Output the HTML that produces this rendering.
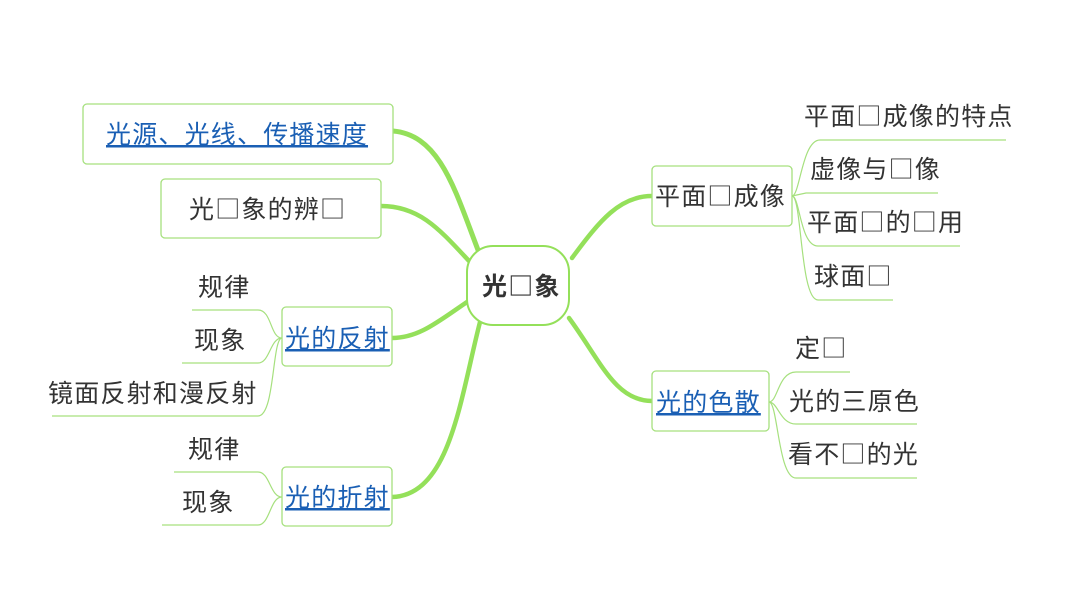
<!DOCTYPE html>
<html><head><meta charset="utf-8"><style>
body{margin:0;background:#fff;}
svg text{font-family:"Noto Sans CJK SC","WenQuanYi Zen Hei",sans-serif;font-size:25px;letter-spacing:1.2px;fill:#333;}
.b{fill:#1a5fb4;text-decoration:underline;}
</style></head><body>
<svg width="1066" height="600" viewBox="0 0 1066 600" xmlns="http://www.w3.org/2000/svg">
<g fill="none" stroke="#94e05a" stroke-linecap="round">
<path d="M478,250 C455,190 440,135 393,131" stroke-width="5"/>
<path d="M470,262 C440,230 420,206 381,206" stroke-width="4.5"/>
<path d="M470,300 C440,320 420,338 392,338" stroke-width="4.5"/>
<path d="M480,322 C460,400 450,495 392,497" stroke-width="4.5"/>
<path d="M572,258 C600,220 620,196 652,196" stroke-width="4.5"/>
<path d="M569,318 C600,360 615,401 652,401" stroke-width="4.5"/>
</g>
<g fill="none" stroke="#a6e07e" stroke-width="1.2">
<path d="M792,196 C800,196 802,140 820,140 L1006,140"/>
<path d="M792,196 L806,193 L938,193"/>
<path d="M792,196 C800,196 800,246 818,246 L960,246"/>
<path d="M792,196 C802,196 800,300 818,300 L893,300"/>
<path d="M769,402 C778,402 778,372 796,372 L850,372"/>
<path d="M769,402 C778,402 780,424 796,424 L917,424"/>
<path d="M769,402 C778,402 778,478 796,478 L917,478"/>
<path d="M282,338 C270,338 272,310 258,310 L192,310"/>
<path d="M282,338 C270,338 270,363 258,363 L182,363"/>
<path d="M282,338 C272,338 275,416 258,416 L52,416"/>
<path d="M282,497 C270,497 270,472 258,472 L174,472"/>
<path d="M282,497 C270,497 270,525 258,525 L162,525"/>
</g>
<g fill="#fff" stroke="#a6e07e" stroke-width="1.3">
<rect x="83" y="104" width="310" height="60" rx="4"/>
<rect x="161" y="179" width="220" height="59" rx="4"/>
<rect x="282" y="307" width="110" height="59" rx="4"/>
<rect x="282" y="467" width="110" height="59" rx="4"/>
<rect x="652" y="166" width="140" height="60" rx="4"/>
<rect x="652" y="371" width="117" height="60" rx="4"/>
<rect x="467" y="246" width="102" height="79" rx="26" stroke="#94e05a" stroke-width="2"/>
</g>
<text x="482" y="295" style="font-weight:bold">光□象</text>
<text x="106" y="143" class="b">光源、光线、传播速度</text>
<text x="189" y="218">光□象的辨□</text>
<text x="285" y="347" class="b">光的反射</text>
<text x="285" y="506" class="b">光的折射</text>
<text x="655" y="205">平面□成像</text>
<text x="656" y="411" class="b">光的色散</text>
<text x="198" y="296">规律</text>
<text x="194" y="349">现象</text>
<text x="48" y="402">镜面反射和漫反射</text>
<text x="188" y="458">规律</text>
<text x="182" y="511">现象</text>
<text x="804" y="125">平面□成像的特点</text>
<text x="810" y="178">虚像与□像</text>
<text x="807" y="231">平面□的□用</text>
<text x="814" y="285">球面□</text>
<text x="795" y="357">定□</text>
<text x="789" y="410">光的三原色</text>
<text x="788" y="463">看不□的光</text>
</svg>
</body></html>
